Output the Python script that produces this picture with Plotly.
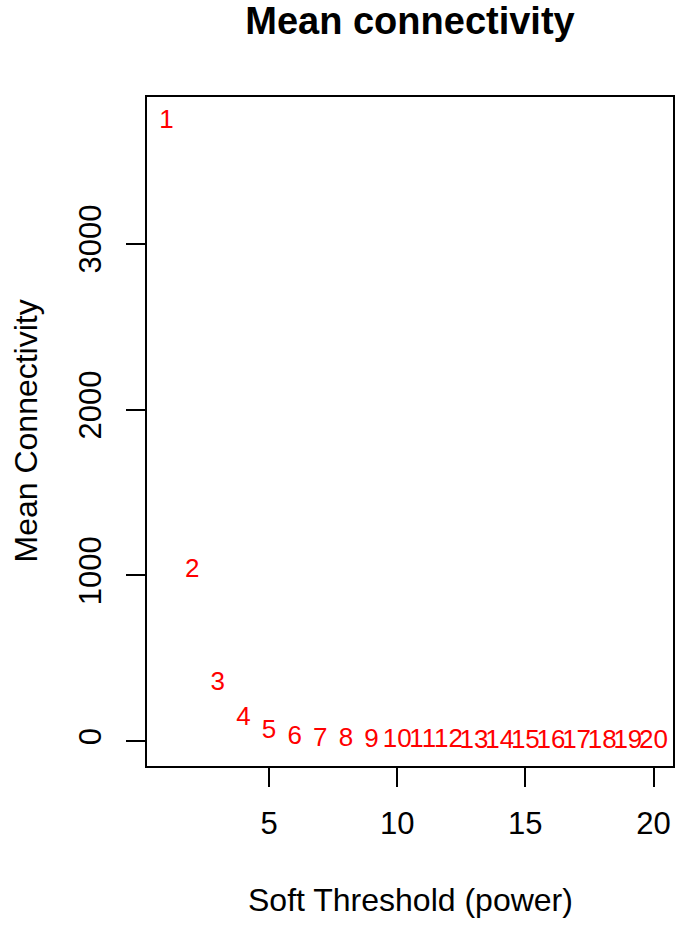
import plotly.graph_objects as go

# soft-threshold powers and their mean connectivity
powers = list(range(1, 21))
mean_k = [3735, 1030, 350, 135, 56, 24, 13, 8, 5, 3.5,
          2.5, 1.8, 1.3, 1.0, 0.8, 0.6, 0.5, 0.4, 0.3, 0.25]
x_ticks = [5, 10, 15, 20]
y_ticks = [0, 1000, 2000, 3000]

FONT = "Liberation Sans, Arial, sans-serif"
W, H = 679, 925


def r_range(vals, ext=0.04):
    # same padding as R's default axis style "r"
    lo, hi = min(vals), max(vals)
    pad = (hi - lo) * ext
    return [lo - pad, hi + pad]


fig = go.Figure(
    go.Scatter(
        x=powers, y=mean_k, mode="text",
        text=[str(p) for p in powers],
        textposition="middle center",
        textfont=dict(family=FONT, size=26, color="#FF0000"),
        hoverinfo="x+y",
    )
)

axis_common = dict(
    showgrid=False, zeroline=False,
    showline=True, linecolor="black", linewidth=2, mirror=True,
    ticks="outside", ticklen=19, tickwidth=2, tickcolor="black",
    tickfont=dict(family=FONT, size=31, color="black"),
)
fig.update_xaxes(range=r_range(powers), tickvals=x_ticks, ticklabelstandoff=10, **axis_common)
fig.update_yaxes(range=r_range(mean_k), tickvals=y_ticks, tickangle=-90, ticklabelstandoff=13, **axis_common)

fig.update_layout(
    width=W, height=H,
    margin=dict(l=147, r=4, t=97, b=159),
    plot_bgcolor="white", paper_bgcolor="white",
    showlegend=False,
    title=dict(text="<b>Mean connectivity</b>", x=0.5, xref="paper", y=1 - 21 / H,
               yanchor="middle", xanchor="center",
               font=dict(family=FONT, size=38, color="black")),
    annotations=[
        dict(text="Soft Threshold (power)", xref="paper", yref="paper", x=0.5, y=0,
             xanchor="center", yanchor="middle", yshift=-134, showarrow=False,
             font=dict(family=FONT, size=32, color="black")),
        dict(text="Mean Connectivity", xref="paper", yref="paper", x=0, y=0.5,
             xanchor="center", yanchor="middle", xshift=-122, textangle=-90, showarrow=False,
             font=dict(family=FONT, size=32, color="black")),
    ],
)

# drop the browser's default 8px body margin so the figure fills the window
fig.write_html("out.html", config={"displayModeBar": False},
               post_script="document.body.style.margin = '0';")
